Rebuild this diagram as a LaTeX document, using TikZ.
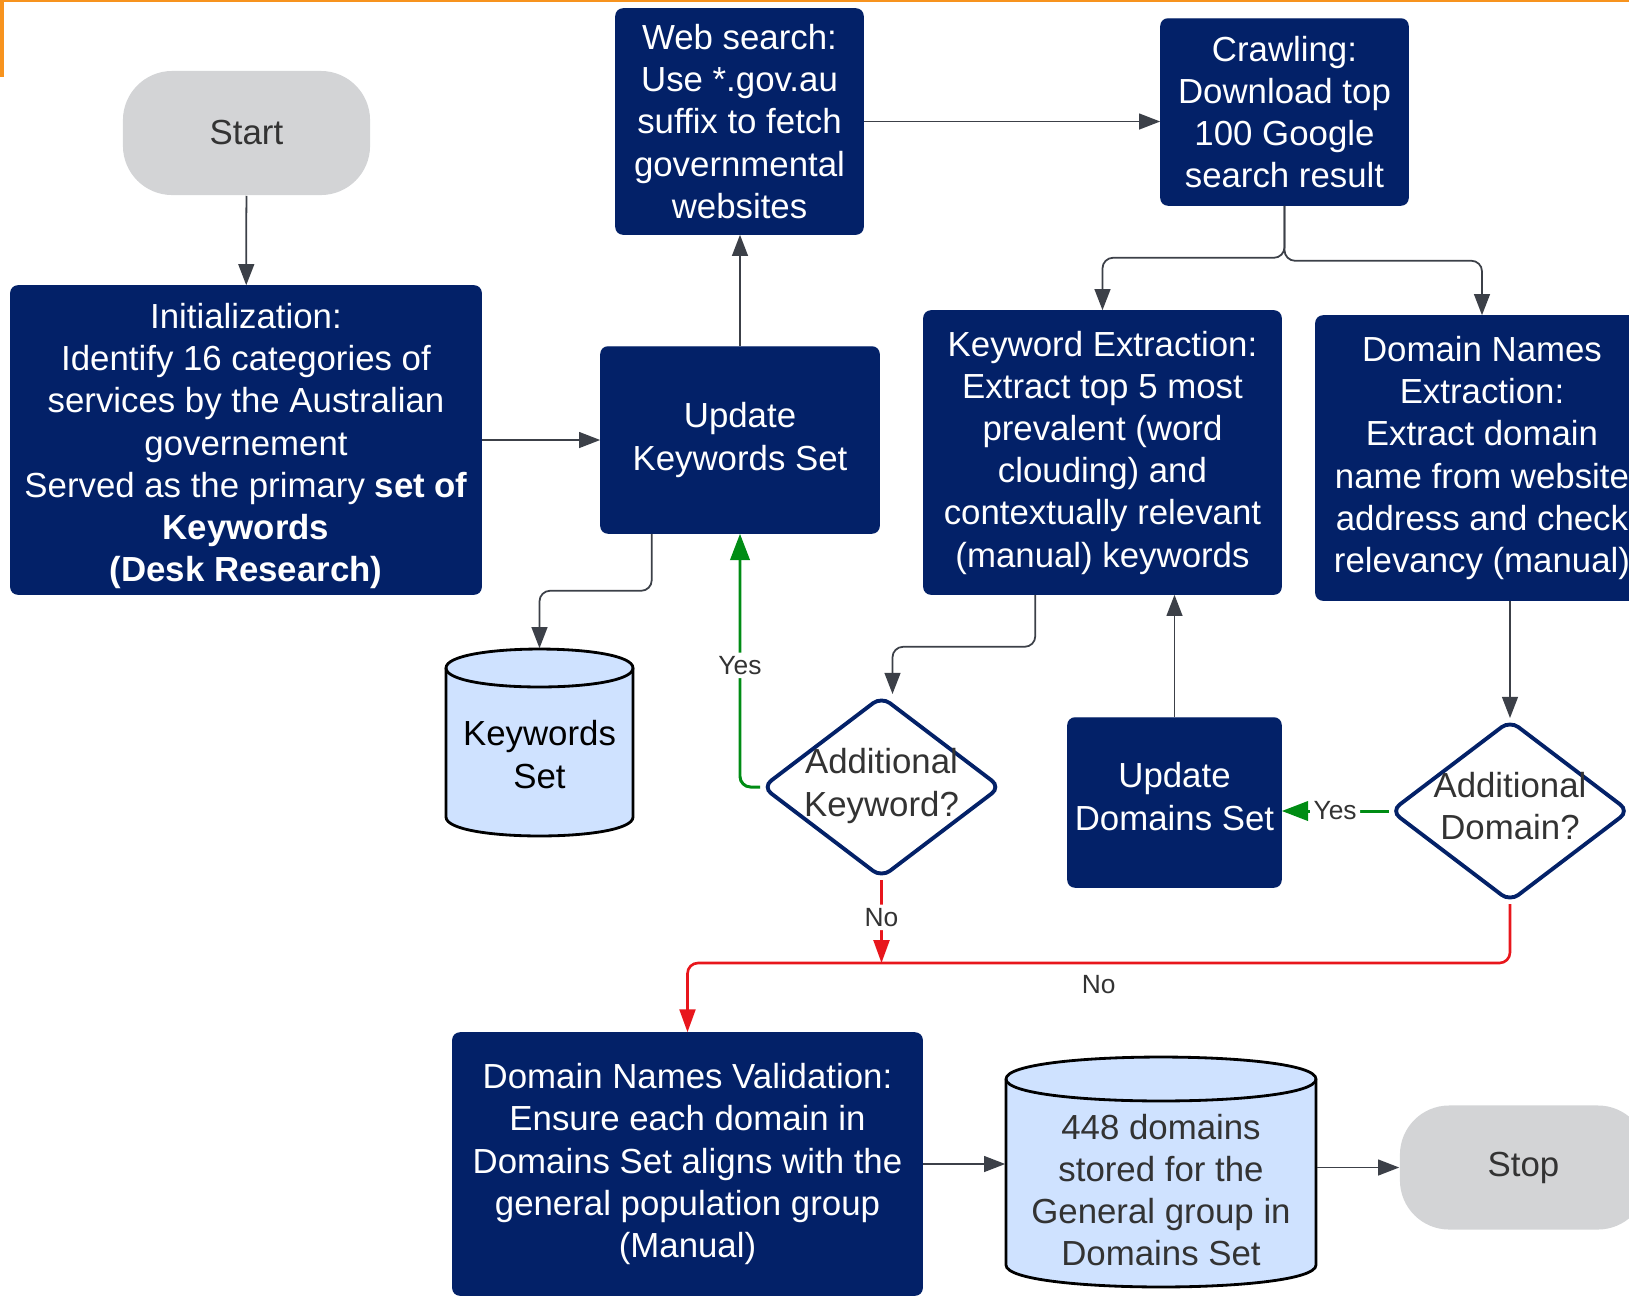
\documentclass[tikz,border=0pt]{standalone}
\usepackage{fontspec}
\setmainfont{Liberation Sans}
\usetikzlibrary{arrows.meta,shapes.geometric,calc}
\definecolor{navy}{RGB}{3,33,104}
\definecolor{pillgray}{RGB}{211,212,214}
\definecolor{cylblue}{RGB}{207,226,255}
\definecolor{linegray}{RGB}{60,64,72}
\definecolor{txtgray}{RGB}{51,51,51}
\definecolor{ygreen}{RGB}{0,140,20}
\definecolor{nred}{RGB}{232,22,28}
\definecolor{orangeedge}{RGB}{247,147,30}
\begin{document}
\begin{tikzpicture}[x=0.01cm,y=-0.01cm,
  every node/.style={font=\fontsize{9.9}{12.0}\selectfont, align=center, inner sep=0pt},
  procbox/.style={draw=navy, fill=navy, text=white, rounded corners=2pt, line width=0.4pt},
  pill/.style={fill=pillgray, text=txtgray, rounded corners=14pt, minimum width=2.47cm, minimum height=1.24cm},
  decision/.style={diamond, draw=navy, fill=white, line width=1.1pt, rounded corners=3pt, minimum width=2.39cm, minimum height=1.82cm},
  cylnode/.style={},
  cylshape/.style={fill=cylblue, draw=black, line width=0.8pt},
  arr/.style={draw=linegray, line width=0.5pt, -{Triangle[length=6pt,width=4.5pt]}, rounded corners=3pt},
  garr/.style={draw=ygreen, color=ygreen, line width=0.85pt, -{Triangle[length=7.5pt,width=5.5pt]}, rounded corners=3pt},
  rarr/.style={draw=nred, color=nred, line width=0.75pt, -{Triangle[length=6.5pt,width=4.5pt]}, rounded corners=3pt},
  small/.style={font=\fontsize{7.5}{9}\selectfont, text=txtgray, fill=white, inner sep=1pt},
]
\useasboundingbox (0,0) rectangle (1629,1296);
\fill[orangeedge] (0,0) rectangle (1629,2);
\fill[orangeedge] (0,0) rectangle (4,77);

% cylinders (shapes)
\fill[cylblue] (446,668) -- (446,817) .. controls (446,842.3) and (633,842.3) .. (633,817) -- (633,668) .. controls (633,642.7) and (446,642.7) .. (446,668) -- cycle;
\draw[cylshape, fill=none] (446,668) -- (446,817) .. controls (446,842.3) and (633,842.3) .. (633,817) -- (633,668) .. controls (633,642.7) and (446,642.7) .. (446,668) -- cycle;
\draw[cylshape, fill=none] (446,668) .. controls (446,693.3) and (633,693.3) .. (633,668);

\fill[cylblue] (1006,1079) -- (1006,1265) .. controls (1006,1294.3) and (1316,1294.3) .. (1316,1265) -- (1316,1079) .. controls (1316,1049.7) and (1006,1049.7) .. (1006,1079) -- cycle;
\draw[cylshape, fill=none] (1006,1079) -- (1006,1265) .. controls (1006,1294.3) and (1316,1294.3) .. (1316,1265) -- (1316,1079) .. controls (1316,1049.7) and (1006,1049.7) .. (1006,1079) -- cycle;
\draw[cylshape, fill=none] (1006,1079) .. controls (1006,1108.3) and (1316,1108.3) .. (1316,1079);

% nodes
\node[pill] (start) at (246.5,133) {Start};
\node[procbox, minimum width=4.70cm, minimum height=3.08cm,
  label={[text=white, yshift=-0.06cm]center:Initialization:\\Identify 16 categories of\\services by the Australian\\governement\\Served as the primary \textbf{set of}\\\textbf{Keywords}\\\textbf{(Desk Research)}}] (init) at (246,440) {};
\node[procbox, minimum width=2.47cm, minimum height=2.25cm] (web) at (739.5,121.5)
  {Web search:\\Use *.gov.au\\suffix to fetch\\governmental\\websites};
\node[procbox, minimum width=2.47cm, minimum height=1.86cm] (crawl) at (1284.5,112)
  {Crawling:\\Download top\\100 Google\\search result};
\node[procbox, minimum width=2.78cm, minimum height=1.86cm] (uk) at (740,440) {Update\\Keywords Set};
\node[procbox, minimum width=3.57cm, minimum height=2.83cm] (ke) at (1102.5,452.5)
  {Keyword Extraction:\\Extract top 5 most\\prevalent (word\\clouding) and\\contextually relevant\\(manual) keywords};
\node[procbox, minimum width=3.32cm, minimum height=2.84cm] (dn) at (1482,458)
  {Domain Names\\Extraction:\\Extract domain\\name from website\\address and check\\relevancy (manual)};
\node[cylnode, minimum width=1.87cm, minimum height=1.87cm,
  label={[text=black, yshift=-0.12cm]center:Keywords\\Set}] (ks) at (539.5,742.5) {};
\node[decision, label={[text=txtgray, yshift=0.01cm]center:Additional\\Keyword?}] (dk) at (881.5,787) {};
\node[procbox, minimum width=2.13cm, minimum height=1.69cm,
  label={[text=white, yshift=0.06cm]center:Update\\Domains Set}] (ud) at (1174.5,802.5) {};
\node[decision, label={[text=txtgray, yshift=0.05cm]center:Additional\\Domain?}] (dd) at (1510,811) {};
\node[procbox, minimum width=4.69cm, minimum height=2.62cm] (val) at (687.5,1164)
  {Domain Names Validation:\\Ensure each domain in\\Domains Set aligns with the\\general population group\\(Manual)};
\node[cylnode, minimum width=3.10cm, minimum height=2.30cm,
  label={[text=txtgray, yshift=-0.18cm]center:448 domains\\stored for the\\General group in\\Domains Set}] (db) at (1161,1172) {};
\node[pill] (stop) at (1523.5,1167.5) {Stop};

% connectors
\draw[arr] (start) -- (init);
\draw[arr] (init.east) -- (uk.west);
\draw[arr] (uk.north) -- (uk.north |- web.south);
\draw[arr] (web.east) -- (web.east -| crawl.west);
\draw[arr] (crawl.south) -- ++(0,52) -| (ke.north);
\draw[arr] (crawl.south) -- ++(0,55) -| (dn.north);
\draw[arr] ([xshift=0.515cm]uk.south west) -- ++(0,57) -| (ks.north);
\draw[arr] ([xshift=1.12cm]ke.south west) -- ++(0,52) -| ([xshift=0.11cm]dk.north);
\draw[garr] (dk.west) -| node[small, pos=0.74]{Yes} (uk.south);
\draw[arr] (ud.north) -- (ud.north |- ke.south);
\draw[arr] (dd.north |- dn.south) -- (dd.north);
\draw[garr] (dd.west) -- node[small, pos=0.5]{Yes} (dd.west -| ud.east);
\coordinate (ny) at (0,963);
\draw[rarr] (dd.south) -- (dd.south |- ny) -- node[small, fill=none, below=2pt]{No} (ny -| val.north) -- (val.north);
\draw[rarr] (dk.south) -- node[small, pos=0.45]{No} (dk.south |- ny);
\draw[arr] (val.east) -- (val.east -| db.west);
\draw[arr] (db.east |- stop) -- (stop.west);
\end{tikzpicture}
\end{document}
